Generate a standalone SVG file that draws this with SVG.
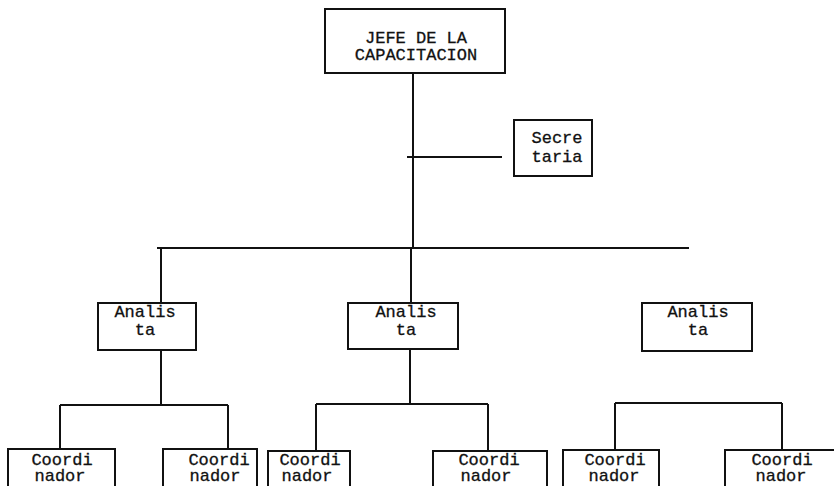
<svg xmlns="http://www.w3.org/2000/svg" width="834" height="486" viewBox="0 0 834 486">
<style>
.b{fill:none;stroke:#111;stroke-width:2}
.l{fill:none;stroke:#111;stroke-width:2}
text{font-family:"Liberation Mono","Courier New",monospace;font-size:17px;fill:#111;stroke:#111;stroke-width:0.3;text-anchor:middle}
</style>
<rect width="834" height="486" fill="#fff"/>
<g id="connectors">
<path class="l" d="M413 73V248"/>
<path class="l" d="M407 157H502"/>
<path class="l" d="M157 248H689"/>
<path class="l" d="M161 248V303"/>
<path class="l" d="M411 248V303"/>
<path class="l" d="M161 350V405M60 405H228M60 405V449M228 405V449"/>
<path class="l" d="M410 349V404M316 404H488M316 404V451M488 404V451"/>
<path class="l" d="M615 403H782M615 403V450M782 403V450"/>
</g>
<g id="jefe">
<rect class="b" x="325" y="9" width="180" height="64"/>
<text x="416" y="43">JEFE DE LA</text>
<text x="416" y="60">CAPACITACION</text>
</g>
<g id="secretaria">
<rect class="b" x="514" y="120" width="78" height="56"/>
<text x="557" y="143">Secre</text>
<text x="557" y="162">taria</text>
</g>
<g id="analista1">
<rect class="b" x="98" y="303" width="98" height="47"/>
<text x="145" y="317">Analis</text>
<text x="145" y="335">ta</text>
</g>
<g id="analista2">
<rect class="b" x="348" y="303" width="110" height="46"/>
<text x="406" y="317">Analis</text>
<text x="406" y="335">ta</text>
</g>
<g id="analista3">
<rect class="b" x="642" y="303" width="110" height="48"/>
<text x="698" y="317">Analis</text>
<text x="698" y="335">ta</text>
</g>
<g id="coord1">
<path class="b" d="M8 490V449H115V490"/>
<text x="62" y="465">Coordi</text>
<text x="60" y="481">nador</text>
</g>
<g id="coord2">
<path class="b" d="M163 490V449H257V490"/>
<text x="219" y="465">Coordi</text>
<text x="215" y="481">nador</text>
</g>
<g id="coord3">
<path class="b" d="M268 490V451H350V490"/>
<text x="310" y="465">Coordi</text>
<text x="307" y="481">nador</text>
</g>
<g id="coord4">
<path class="b" d="M433 490V451H547V490"/>
<text x="489" y="465">Coordi</text>
<text x="486" y="481">nador</text>
</g>
<g id="coord5">
<path class="b" d="M563 490V450H659V490"/>
<text x="615" y="465">Coordi</text>
<text x="614" y="481">nador</text>
</g>
<g id="coord6">
<path class="b" d="M725 490V450H840"/>
<text x="782" y="465">Coordi</text>
<text x="781" y="481">nador</text>
</g>
</svg>
